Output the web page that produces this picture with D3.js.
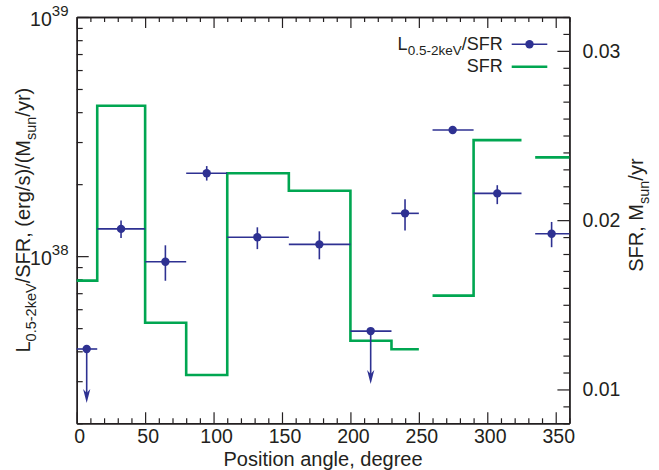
<!DOCTYPE html>
<html lang="en">
<head>
  <meta charset="UTF-8">
  <title>L/SFR vs position angle</title>
  <script src="https://d3js.org/d3.v7.min.js"></script>
  <style>
    body { margin: 0; background: #fff; }
    svg { display: block; font-family: "Liberation Sans", Arial, Helvetica, sans-serif; }
    .axis path, .axis line { stroke: #231f20; }
    .axis path { stroke-width: 1.4; }
    .axis line { stroke-width: 1.2; }
    .axis text { font-size: 19.5px; fill: #231f20; font-family: "Liberation Sans", Arial, sans-serif; }
  </style>
</head>
<body>
  <div id="chart"></div>

  <script>
    // bins in position angle (degree)
    const binLo = [0, 15, 50, 80, 110, 155, 200, 230, 260, 290, 335];
    const binHi = [15, 50, 80, 110, 155, 200, 230, 250, 290, 325, 360];

    // L(0.5-2keV)/SFR points
    const ptAngle = [7.3, 32.4, 64.8, 95, 132, 177.3, 214.8, 239.9, 274.7, 307.3, 347];
    const ptValue = [4.09e37, 1.30e38, 9.47e37, 2.22e38, 1.20e38, 1.12e38, 4.86e37, 1.51e38, 3.37e38, 1.83e38, 1.24e38];
    const errHi   = [null, 1.41e38, 1.11e38, 2.38e38, 1.32e38, 1.27e38, null, 1.73e38, 3.45e38, 1.98e38, 1.39e38];
    const errLo   = [null, 1.19e38, 7.89e37, 2.07e38, 1.07e38, 9.70e37, null, 1.28e38, 3.29e38, 1.65e38, 1.09e38];
    const limitTo = [2.43e37, null, null, null, null, null, 2.92e37, null, null, null, null]; // upper limits

    // SFR per bin, Msun/yr
    const sfr = [0.01643, 0.02676, 0.01394, 0.01085, 0.02277, 0.02174, 0.01288, 0.01237, 0.01554, 0.02473, 0.02371];

    const xTicksMajor = [0, 50, 100, 150, 200, 250, 300, 350];
    const yLeftMajor = [1e38, 1e39];
    const yRightMajor = [0.01, 0.02, 0.03];

    const width = 659, height = 470;
    const mLeft = 76.7, mRight = 569.4, mTop = 17, mBottom = 423.3;
    const blue = "#2e3192", green = "#00a651";

    const svg = d3.select("#chart").append("svg")
      .attr("width", width)
      .attr("height", height);

    const x = d3.scaleLinear().domain([0, 360]).range([mLeft, mRight]);
    const yL = d3.scaleLog().domain([2e37, 1e39]).range([mBottom, mTop]);
    const yR = d3.scaleLinear().domain([0.008, 0.032]).range([mBottom, mTop]);

    // minor tick values
    const xMinor = d3.range(0, 361, 10).filter(d => d % 50 !== 0);
    const yLMinor = [];
    [1e37, 1e38].forEach(dec => { for (let k = 2; k <= 9; k++) if (k * dec >= 2e37) yLMinor.push(k * dec); });
    const yRMinor = d3.range(8, 33).map(d => d / 1000).filter(d => Math.round(d * 1000) % 10 !== 0);

    // axes (ticks point inward)
    svg.append("g").attr("class", "axis")
      .attr("transform", `translate(0,${mBottom})`)
      .call(d3.axisBottom(x).tickValues(xMinor).tickSize(-5).tickSizeOuter(0).tickFormat(""));
    svg.append("g").attr("class", "axis")
      .attr("transform", `translate(0,${mBottom})`)
      .call(d3.axisBottom(x).tickValues(xTicksMajor).tickSize(-11).tickSizeOuter(0).tickPadding(6).tickFormat(d3.format("d")))
      .selectAll("text").attr("dx", 2.5);

    svg.append("g").attr("class", "axis")
      .attr("transform", `translate(0,${mTop})`)
      .call(d3.axisTop(x).tickValues(xMinor).tickSize(-5).tickSizeOuter(0).tickFormat(""));
    svg.append("g").attr("class", "axis")
      .attr("transform", `translate(0,${mTop})`)
      .call(d3.axisTop(x).tickValues(xTicksMajor).tickSize(-11).tickSizeOuter(0).tickFormat(""));

    svg.append("g").attr("class", "axis")
      .attr("transform", `translate(${mLeft},0)`)
      .call(d3.axisLeft(yL).tickValues(yLMinor).tickSize(-6).tickSizeOuter(0).tickFormat(""));
    svg.append("g").attr("class", "axis")
      .attr("transform", `translate(${mLeft},0)`)
      .call(d3.axisLeft(yL).tickValues(yLeftMajor).tickSize(-12).tickSizeOuter(0).tickFormat(""));

    svg.append("g").attr("class", "axis")
      .attr("transform", `translate(${mRight},0)`)
      .call(d3.axisRight(yR).tickValues(yRMinor).tickSize(-6).tickSizeOuter(0).tickFormat(""));
    svg.append("g").attr("class", "axis")
      .attr("transform", `translate(${mRight},0)`)
      .call(d3.axisRight(yR).tickValues(yRightMajor).tickSize(-12).tickSizeOuter(0).tickPadding(13).tickFormat(d3.format(".2f")));

    // left power-of-ten labels
    const powLab = svg.append("g").attr("fill", "#231f20")
      .selectAll("text").data(yLeftMajor).join("text")
      .attr("x", 68.5)
      .attr("y", d => yL(d) + 9)
      .attr("text-anchor", "end")
      .style("font-size", "19.5px");
    powLab.append("tspan").text("10");
    powLab.append("tspan").attr("dy", -10).style("font-size", "15px").text(d => Math.round(Math.log10(d)));

    // SFR step line, split where bins are not contiguous
    const groups = [];
    binLo.forEach((lo, i) => {
      if (i === 0 || binHi[i - 1] !== lo) groups.push([]);
      groups[groups.length - 1].push(i);
    });
    const step = d3.line().x(d => x(d[0])).y(d => yR(d[1])).curve(d3.curveStepAfter);
    svg.append("g").selectAll("path").data(groups).join("path")
      .attr("fill", "none")
      .attr("stroke", green)
      .attr("stroke-width", 2.6)
      .attr("d", g => {
        const pts = g.map(i => [binLo[i], sfr[i]]);
        const last = g[g.length - 1];
        pts.push([binHi[last], sfr[last]]);
        return step(pts);
      });

    // L/SFR points
    const pts = svg.append("g").attr("stroke", blue).attr("fill", blue);
    binLo.forEach((lo, i) => {
      const cx = x(ptAngle[i]), cy = yL(ptValue[i]);
      pts.append("line")
        .attr("x1", x(lo)).attr("x2", x(binHi[i]))
        .attr("y1", cy).attr("y2", cy)
        .attr("stroke-width", 1.6);
      if (errHi[i] !== null) {
        pts.append("line")
          .attr("x1", cx).attr("x2", cx)
          .attr("y1", yL(errHi[i])).attr("y2", yL(errLo[i]))
          .attr("stroke-width", 1.6);
      }
      if (limitTo[i] !== null) {
        const ty = yL(limitTo[i]);
        pts.append("line")
          .attr("x1", cx).attr("x2", cx)
          .attr("y1", cy).attr("y2", ty - 6)
          .attr("stroke-width", 1.6);
        pts.append("path")
          .attr("stroke", "none")
          .attr("d", `M${cx},${ty} L${cx - 3.6},${ty - 14} L${cx},${ty - 10} L${cx + 3.6},${ty - 14} Z`);
      }
      pts.append("circle").attr("cx", cx).attr("cy", cy).attr("r", 4.2).attr("stroke", "none");
    });

    // legend
    const leg = svg.append("g").style("font-size", "18px").attr("fill", "#231f20");
    const l1 = leg.append("text").attr("x", 502.7).attr("y", 49.5).attr("text-anchor", "end");
    l1.append("tspan").text("L");
    l1.append("tspan").attr("dy", 5.5).style("font-size", "13.5px").text("0.5-2keV");
    l1.append("tspan").attr("dy", -5.5).text("/SFR");
    leg.append("text").attr("x", 502.7).attr("y", 72).attr("text-anchor", "end").text("SFR");
    leg.append("line").attr("x1", 511.7).attr("x2", 547.3).attr("y1", 44.3).attr("y2", 44.3)
      .attr("stroke", blue).attr("stroke-width", 1.6);
    leg.append("circle").attr("cx", 529.5).attr("cy", 44.3).attr("r", 4.2).attr("fill", blue);
    leg.append("line").attr("x1", 511.7).attr("x2", 547.3).attr("y1", 66.7).attr("y2", 66.7)
      .attr("stroke", green).attr("stroke-width", 2.6);

    // axis titles
    svg.append("text")
      .attr("x", (mLeft + mRight) / 2).attr("y", 465.5)
      .attr("text-anchor", "middle").style("font-size", "20px").attr("fill", "#231f20")
      .text("Position angle, degree");

    const tl = svg.append("text")
      .attr("transform", `translate(30,${(mTop + mBottom) / 2}) rotate(-90)`)
      .attr("text-anchor", "middle").style("font-size", "20px").attr("fill", "#231f20");
    tl.append("tspan").text("L");
    tl.append("tspan").attr("dy", 6).style("font-size", "14.5px").text("0.5-2keV");
    tl.append("tspan").attr("dy", -6).text("/SFR, (erg/s)/(M");
    tl.append("tspan").attr("dy", 6).style("font-size", "14.5px").text("sun");
    tl.append("tspan").attr("dy", -6).text("/yr)");

    const tr = svg.append("text")
      .attr("transform", `translate(643,${(mTop + mBottom) / 2 - 5}) rotate(-90)`)
      .attr("text-anchor", "middle").style("font-size", "20px").attr("fill", "#231f20");
    tr.append("tspan").text("SFR, M");
    tr.append("tspan").attr("dy", 6).style("font-size", "14.5px").text("sun");
    tr.append("tspan").attr("dy", -6).text("/yr");
  </script>
</body>
</html>
